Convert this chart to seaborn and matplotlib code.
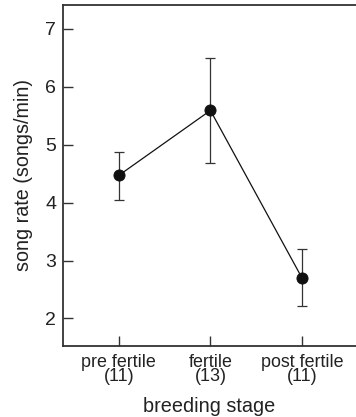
import matplotlib
matplotlib.use("Agg")
import matplotlib.pyplot as plt
import seaborn as sns
import pandas as pd

stages = ["pre fertile", "fertile", "post fertile"]
n_birds = [11, 13, 11]
means = [4.47, 5.59, 2.70]
err_low = [4.04, 4.69, 2.21]
err_high = [4.88, 6.49, 3.20]

sns.set_theme(style="ticks")
plt.rcParams['font.family'] = ['Liberation Sans', 'DejaVu Sans']

df = pd.DataFrame({"stage": stages, "rate": means})

fig = plt.figure(figsize=(3.56, 4.17), dpi=100)
ax = fig.add_axes([63/356, 71.3/417, 1 - 63/356, (345.7 - 5)/417])

sns.pointplot(data=df, x="stage", y="rate", color="#111111", ax=ax,
              markers="o", linestyles="-", errorbar=None,
              markersize=8, linewidth=0.9)
ax.errorbar(range(len(stages)), means,
            yerr=[[m - lo for m, lo in zip(means, err_low)],
                  [hi - m for m, hi in zip(means, err_high)]],
            fmt="none", ecolor="#333333", elinewidth=0.9, capsize=3.5,
            capthick=0.9, zorder=1)

ax.set_xlim(-0.61, 2.59)
ax.set_ylim(1.53, 7.41)
ax.set_yticks([2, 3, 4, 5, 6, 7])
ax.set_xticks(range(len(stages)))
ax.set_xticklabels([f"{s}\n({n})" for s, n in zip(stages, n_birds)],
                   linespacing=0.8)
ax.tick_params(direction="in", length=7, width=1, color="#333333",
               labelsize=12.9, labelcolor="#222222", pad=6)
ax.tick_params(axis="y", labelsize=14, pad=5)
for s in ["left", "top", "bottom"]:
    ax.spines[s].set_color("#333333")
    ax.spines[s].set_linewidth(1.3)
ax.spines["right"].set_visible(False)

ax.set_xlabel("breeding stage", fontsize=14.3, color="#222222", labelpad=8)
ax.set_ylabel("song rate (songs/min)", fontsize=14.2, color="#222222", labelpad=9)

fig.savefig("out.png", dpi=100)
